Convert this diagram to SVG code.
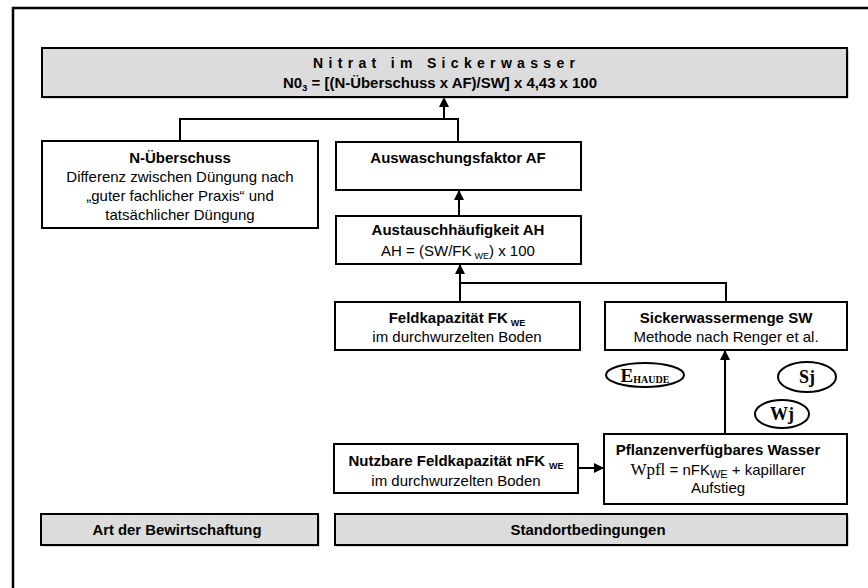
<svg xmlns="http://www.w3.org/2000/svg" width="868" height="588" viewBox="0 0 868 588">
<defs>
<style>
.box{fill:#fff;stroke:#000;stroke-width:2}
.gbox{fill:#dcdcdc;stroke:#000;stroke-width:2}
.sh{fill:#b0b0b0}
.t{font-family:"Liberation Sans",Arial,sans-serif;font-size:15px;text-anchor:middle;fill:#000}
.b{font-weight:bold}
.n{font-family:"Liberation Sans",Arial,sans-serif;font-size:14px;font-weight:bold;text-anchor:middle;fill:#000}
.sub{font-size:9px}
.ser{font-family:"Liberation Serif","Times New Roman",serif;font-weight:bold;fill:#000;text-anchor:middle}
.ln{fill:none;stroke:#000;stroke-width:2}
.ell{fill:#fff;stroke:#000;stroke-width:2}
</style>
<marker id="ah" markerWidth="10" markerHeight="10" refX="9" refY="5" orient="auto" markerUnits="userSpaceOnUse" viewBox="0 0 10 10">
<path d="M0,0 L10,5 L0,10 Z" fill="#000"/>
</marker>
</defs>
<rect x="0" y="0" width="868" height="588" fill="#fff"/>
<rect x="13" y="8" width="870" height="600" fill="none" stroke="#000" stroke-width="2.5"/>

<g id="connectors">
<path class="ln" d="M180,141 V119 H458 V142"/>
<path class="ln" d="M444,119 V98" marker-end="url(#ah)"/>
<path class="ln" d="M459,216 V191" marker-end="url(#ah)"/>
<path class="ln" d="M460,302 V283 H726 V302"/>
<path class="ln" d="M460,283 V265" marker-end="url(#ah)"/>
<path class="ln" d="M725,434 V351" marker-end="url(#ah)"/>
<path class="ln" d="M578,468 H603" marker-end="url(#ah)"/>
</g>

<g id="nitrat">
<rect class="sh" x="43.5" y="49.5" width="805" height="49"/>
<rect class="gbox" x="42" y="48" width="805" height="49"/>
<text class="n" x="444" y="68" textLength="262" lengthAdjust="spacing">Nitrat im Sickerwasser</text>
<text class="n" x="440" y="88" textLength="314" lengthAdjust="spacingAndGlyphs">N0<tspan class="sub" dy="3">3</tspan><tspan dy="-3"> = [(N-Überschuss  x AF)/SW] x 4,43 x 100</tspan></text>
</g>

<g id="n-ueberschuss">
<rect class="box" x="42" y="141" width="276" height="87"/>
<text class="t b" x="180" y="163">N-Überschuss</text>
<text class="t" x="180" y="182">Differenz zwischen Düngung nach</text>
<text class="t" x="180" y="201">„guter fachlicher Praxis“ und</text>
<text class="t" x="180" y="220">tatsächlicher Düngung</text>
</g>

<g id="af">
<rect class="box" x="336" y="142" width="245" height="48"/>
<text class="t b" x="458" y="163">Auswaschungsfaktor AF</text>
</g>

<g id="ah-node">
<rect class="box" x="336" y="216" width="245" height="48"/>
<text class="t b" x="458" y="235">Austauschhäufigkeit AH</text>
<text class="t" x="458" y="256">AH = (SW/FK<tspan class="sub" dx="3" dy="3">WE</tspan><tspan dy="-3">) x 100</tspan></text>
</g>

<g id="fk">
<rect class="box" x="335" y="302" width="245" height="48"/>
<text class="t b" x="457" y="323">Feldkapazität FK<tspan class="sub" dx="3" dy="3">WE</tspan></text>
<text class="t" x="457" y="342">im durchwurzelten Boden</text>
</g>

<g id="sw">
<rect class="box" x="605" y="302" width="242" height="48"/>
<text class="t b" x="726" y="323">Sickerwassermenge SW</text>
<text class="t" x="726" y="342">Methode nach Renger et al.</text>
</g>

<g id="ehaude">
<ellipse class="ell" cx="645" cy="375" rx="39" ry="12"/>
<text class="ser" x="645" y="382" font-size="19">E<tspan font-size="10" dy="1">HAUDE</tspan></text>
</g>

<g id="sj">
<ellipse class="ell" cx="807" cy="377" rx="29" ry="15"/>
<text class="ser" x="807" y="383" font-size="18">Sj</text>
</g>

<g id="wj">
<ellipse class="ell" cx="782" cy="414" rx="27" ry="14"/>
<text class="ser" x="782" y="420" font-size="18">Wj</text>
</g>

<g id="nfk">
<rect class="box" x="334" y="444" width="244" height="49"/>
<text class="t b" x="456" y="466">Nutzbare Feldkapazität nFK<tspan class="sub" dx="4" dy="3">WE</tspan></text>
<text class="t" x="456" y="486">im durchwurzelten Boden</text>
</g>

<g id="wpfl">
<rect class="box" x="604" y="434" width="243" height="70"/>
<text class="t b" x="718" y="455">Pflanzenverfügbares Wasser</text>
<text class="t" x="718" y="475"><tspan font-family="Liberation Serif, Times New Roman, serif" font-size="17">Wpfl</tspan> = nFK<tspan font-size="11" dy="3">WE</tspan><tspan dy="-3"> + kapillarer</tspan></text>
<text class="t" x="718" y="493">Aufstieg</text>
</g>

<g id="bewirtschaftung">
<rect class="sh" x="42.5" y="515.5" width="277" height="31"/>
<rect class="gbox" x="41" y="514" width="277" height="31"/>
<text class="n" x="177" y="535" textLength="169" lengthAdjust="spacingAndGlyphs">Art der Bewirtschaftung</text>
</g>

<g id="standort">
<rect class="sh" x="336.5" y="515.5" width="512" height="31"/>
<rect class="gbox" x="335" y="514" width="512" height="31"/>
<text class="n" x="588" y="535" textLength="155" lengthAdjust="spacingAndGlyphs">Standortbedingungen</text>
</g>
</svg>
